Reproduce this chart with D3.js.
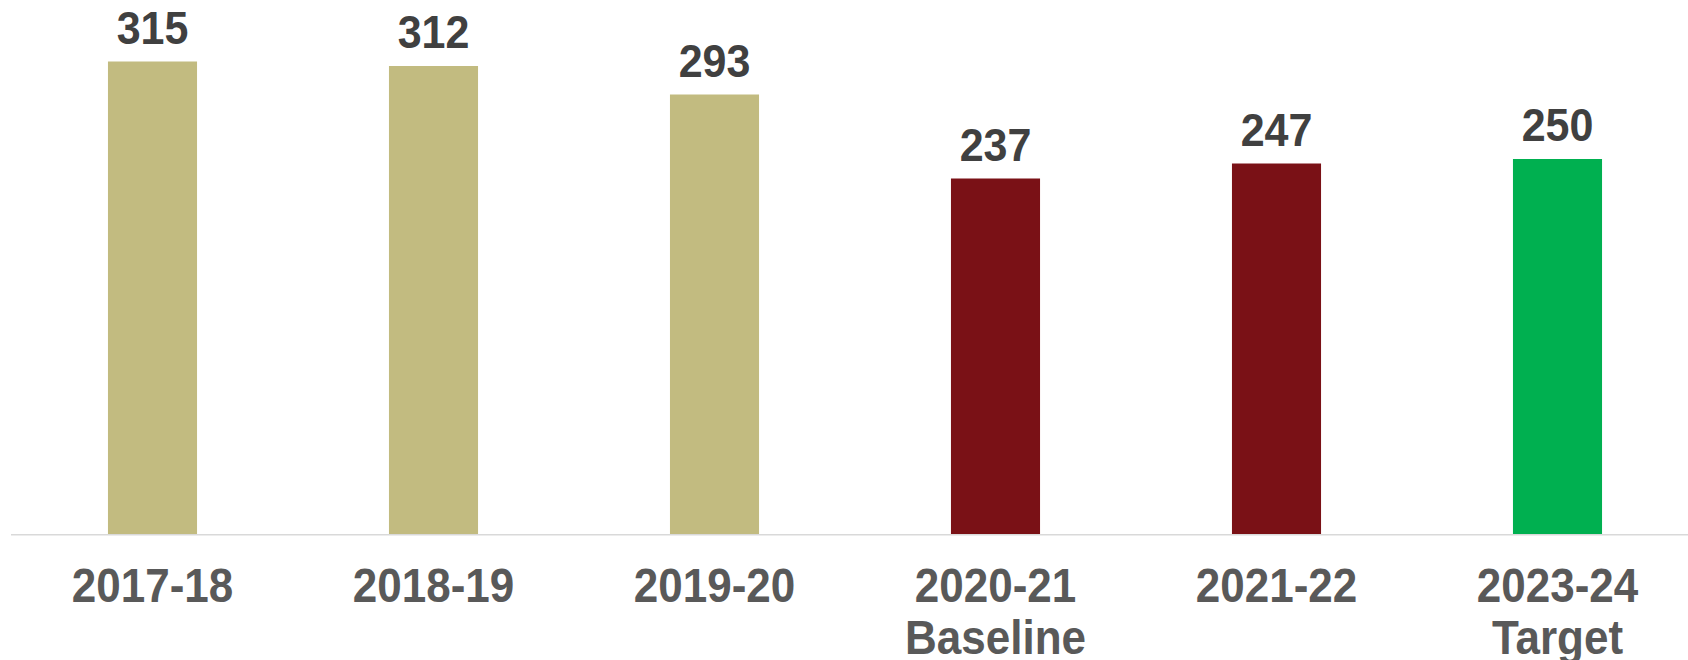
<!DOCTYPE html>
<html>
<head>
<meta charset="utf-8">
<script src="https://cdn.jsdelivr.net/npm/d3@7"></script>
<style>
  body { margin: 0; background: #fff; }
  svg { display: block; font-family: "Liberation Sans", Arial, sans-serif; font-weight: bold; }
</style>
</head>
<body>
<svg id="chart" width="1688" height="660"></svg>
<script>
var years = ["2017-18", "2018-19", "2019-20", "2020-21", "2021-22", "2023-24"];
var subLabels = ["", "", "", "Baseline", "", "Target"];
var values = [315, 312, 293, 237, 247, 250];
var barColors = ["#c2bb80", "#c2bb80", "#c2bb80", "#7a1116", "#7a1116", "#00b050"];

var width = 1688, height = 660;
var baseY = 534;

var svg = d3.select("#chart");

// step of 281 px, bars 89 px wide
var x = d3.scaleBand()
    .domain(years)
    .range([12, 1698])
    .paddingInner(0.683)
    .paddingOuter(0.683 / 2);

var y = d3.scaleLinear()
    .domain([0, 356])
    .range([baseY, 0]);

var data = years.map(function(d, i) {
    return {year: d, sub: subLabels[i], value: values[i], color: barColors[i]};
});

svg.append("g").selectAll("rect")
    .data(data)
    .enter()
    .append("rect")
    .attr("x", d => x(d.year))
    .attr("y", d => y(d.value))
    .attr("width", x.bandwidth())
    .attr("height", d => y(0) - y(d.value))
    .attr("fill", d => d.color);

// axis line
svg.append("line")
    .attr("x1", 11)
    .attr("x2", width)
    .attr("y1", y(0) + 0.75)
    .attr("y2", y(0) + 0.75)
    .attr("stroke", "#d9d9d9")
    .attr("stroke-width", 1.5);

// value labels
svg.append("g").selectAll("text")
    .data(data)
    .enter()
    .append("text")
    .attr("transform", d => "translate(" + (x(d.year) + x.bandwidth() / 2) + "," + (y(d.value) - 18) + ") scale(1,1.07)")
    .attr("text-anchor", "middle")
    .attr("font-size", 43)
    .attr("fill", "#404040")
    .text(d => d.value);

// category labels
var cat = svg.append("g").selectAll("g")
    .data(data)
    .enter()
    .append("g")
    .attr("transform", d => "translate(" + (x(d.year) + x.bandwidth() / 2) + ",0)");

cat.append("text")
    .attr("transform", "translate(0,602) scale(1,1.08)")
    .attr("text-anchor", "middle")
    .attr("font-size", 44)
    .attr("fill", "#595959")
    .text(d => d.year);

cat.filter(d => d.sub !== "")
    .append("text")
    .attr("transform", "translate(0,654) scale(1,1.08)")
    .attr("text-anchor", "middle")
    .attr("font-size", 44)
    .attr("fill", "#595959")
    .text(d => d.sub);
</script>
</body>
</html>
